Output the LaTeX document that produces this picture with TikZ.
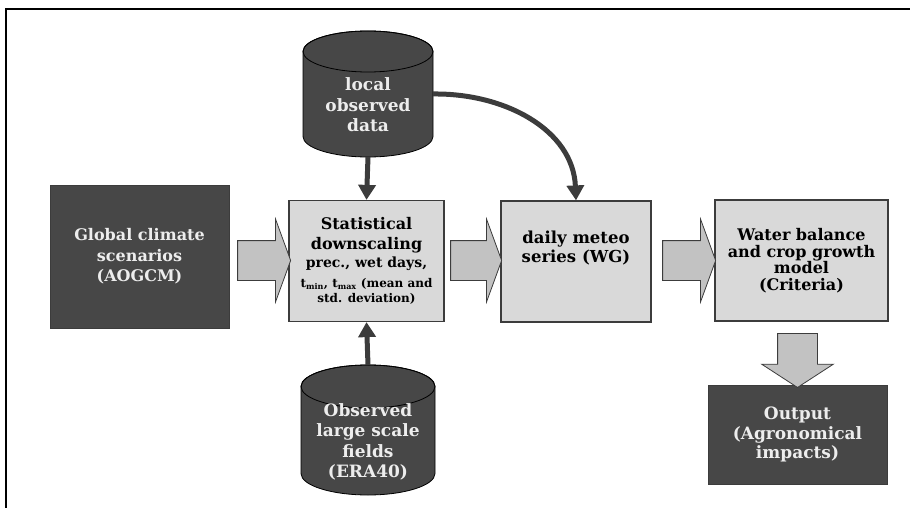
\documentclass[tikz,border=0pt]{standalone}
\usepackage{fontspec}
\setmainfont{DejaVu Serif}
\usepackage{tikz}
\usetikzlibrary{shapes.arrows,arrows.meta,calc}

\definecolor{darkfill}{HTML}{474747}
\definecolor{lightfill}{HTML}{D9D9D9}
\definecolor{arrowfill}{HTML}{C2C2C2}
\definecolor{edgegray}{HTML}{3C3C3C}
\definecolor{paletext}{HTML}{EDEDED}

\newcommand{\bigf}{\bfseries\fontsize{16}{20}\selectfont}
\newcommand{\midf}{\bfseries\fontsize{14}{18}\selectfont}
\newcommand{\smallf}{\bfseries\fontsize{12}{15}\selectfont}
% data store: centre x, top y, x radius, lid y radius, bottom y
\newcommand{\datastore}[5]{
	\filldraw[draw=black, line width=0.8pt, fill=darkfill]
		({#1-#3},{#2+#4}) -- ({#1-#3},{#5-#4})
		arc[start angle=180, end angle=360, x radius=#3pt, y radius=#4pt]
		-- ({#1+#3},{#2+#4})
		arc[start angle=0, end angle=180, x radius=#3pt, y radius=#4pt] -- cycle;
	\draw[line width=0.8pt] (#1,{#2+#4}) ellipse[x radius=#3pt, y radius=#4pt];
}

\tikzset{
	darkbox/.style={draw=edgegray, line width=0.8pt, fill=darkfill, text=paletext, align=center, inner sep=0pt, font=\bigf},
	lightbox/.style={draw=edgegray, line width=1.2pt, fill=lightfill, text=black, align=center, inner sep=0pt, font=\bigf},
	dbtext/.style={text=paletext, align=center, inner sep=0pt, font=\bfseries\fontsize{17}{20.5}\selectfont},
	blockarrow/.style={single arrow, draw=edgegray, line width=0.8pt, fill=arrowfill, inner xsep=0pt, inner ysep=19.5pt, single arrow head extend=21.5pt, single arrow tip angle=140},
	feed/.style={draw=edgegray, line width=5pt, -{Triangle[length=15pt,width=17pt]}}
}

\begin{document}
\begin{tikzpicture}[x=1pt,y=-1pt]
			\useasboundingbox (0,0) rectangle (910,508);
			% frame
			\draw[line width=2pt] (6,508) -- (6,9) -- (910,9);
			% boxes
			\node[darkbox, minimum width=179pt, minimum height=143pt, font=\bfseries\fontsize{16}{20.5}\selectfont] (glob) at (139.5,256.5)
				{Global climate\\scenarios\\(AOGCM)};
			\node[lightbox, minimum width=155pt, minimum height=121pt] (stat) at (366.5,261)
				{Statistical\\downscaling\\[-2pt]\midf prec., wet days,\\\smallf t\textsubscript{min}, t\textsubscript{max} (mean and\\[-5pt]\smallf std. deviation)};
			\node[lightbox, minimum width=150pt, minimum height=121pt] (daily) at (576,261.5) {};
			\node[font=\bfseries\fontsize{16.5}{19}\selectfont, align=center, anchor=north, inner sep=0pt] (dailytxt) at ($(daily.north)+(0,30)$)
				{daily meteo\\series (WG)};
			\node[lightbox, minimum width=173pt, minimum height=121pt, font=\bfseries\fontsize{16}{16.5}\selectfont] (water) at (801.5,260.5)
				{Water balance\\and crop growth\\model\\(Criteria)};
			\node[darkbox, minimum width=179pt, minimum height=99pt, font=\bfseries\fontsize{17}{19.5}\selectfont] (out) at (797.5,434.5)
				{Output\\(Agronomical\\impacts)};
			% data stores
			\datastore{368}{31}{65}{20.5}{157}
			\node[dbtext] (locdata) at (368,105) {local\\observed\\data};
			\coordinate (locbot) at (368,157);
			\coordinate (loceast) at (433,94);
			\datastore{368}{365}{67}{21.5}{495}
			\node[dbtext] (era) at (368,442) {Observed\\large scale\\fields\\(ERA40)};
			\coordinate (eratop) at (368,365);
			% block arrows
			\foreach \x/\n/\l in {260.5/1/53, 472.5/2/51, 685.5/3/53} {
				\node[blockarrow, minimum height=\l pt] (harr\n) at (\x,260.5) {};
			}
			\node[blockarrow, rotate=-90, minimum height=54pt,
				single arrow head extend=16pt, single arrow tip angle=114] (varr) at (797.5,354) {};
			% data flow
			\draw[feed] (locbot) -- (stat.north);
			\draw[feed] (eratop) -- (stat.south);
			\draw[feed] (loceast) .. controls (505,93) and (573,130) .. (daily.north);
		\end{tikzpicture}
\end{document}
